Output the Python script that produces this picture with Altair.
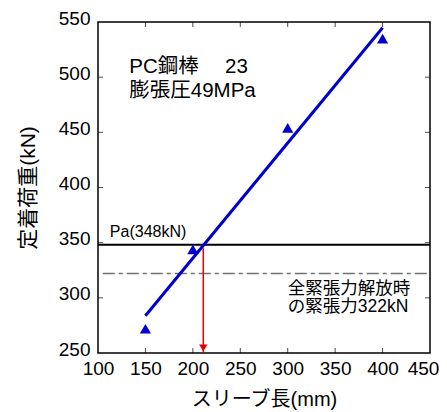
import altair as alt
import pandas as pd

# data
sleeve_mm = [150, 200, 300, 400]
load_kN = [272, 344, 454, 535]
pa_kN = [348]
release_kN = [322]
arrow_x = [211]
arrow_top = [345]
x_ticks = [100, 150, 200, 250, 300, 350, 400, 450]
y_ticks = [250, 300, 350, 400, 450, 500, 550]
x_inner = [150, 200, 250, 300, 350, 400]
y_inner = [300, 350, 400, 450, 500]

FONT = "Liberation Sans, Arial, Noto Sans CJK JP"
BLUE = "#0000cd"

pts = pd.DataFrame({"x": sleeve_mm, "y": load_kN})
pa_df = pd.DataFrame({"y": pa_kN})
rel_df = pd.DataFrame({"y": release_kN})
arr_df = pd.DataFrame({"x": arrow_x, "y": arrow_top, "y2": [250]})
xin = pd.DataFrame({"x": x_inner})
yin = pd.DataFrame({"y": y_inner})

xs = alt.Scale(domain=[100, 450], nice=False, zero=False)
ys = alt.Scale(domain=[250, 550], nice=False, zero=False)

W, H = 332, 331

main_x = alt.Axis(values=x_ticks, ticks=False, tickSize=0, labelOverlap=False, labelFlush=False,
                  domain=False, grid=False, labelPadding=6, labelFontSize=19,
                  labelOffset=alt.ExprRef("datum.value == 450 ? -7 : 0"),
                  title="スリーブ長(mm)", titleFontSize=20, titlePadding=11,
                  titleFontWeight="normal", labelFont=FONT, titleFont=FONT, labelColor="black", titleColor="black")
main_y = alt.Axis(values=y_ticks, ticks=False, tickSize=0, labelOverlap=False, labelFlush=False,
                  domain=False, grid=False, labelPadding=8, labelFontSize=19, labelOffset=-4,
                  title="定着荷重(kN)", titleFontSize=21, titlePadding=20,
                  titleFontWeight="normal", labelFont=FONT, titleFont=FONT, labelColor="black", titleColor="black")

points = alt.Chart(pts).mark_point(shape="triangle-up", filled=True, color=BLUE, size=125, opacity=1).encode(
    x=alt.X("x:Q", scale=xs, axis=main_x),
    y=alt.Y("y:Q", scale=ys, axis=main_y),
)

fit = alt.Chart(pts).transform_regression("x", "y", extent=[150, 400]).mark_line(
    color=BLUE, strokeWidth=3).encode(
    x=alt.X("x:Q", scale=xs), y=alt.Y("y:Q", scale=ys),
)

pa_line = alt.Chart(pa_df).mark_rule(color="black", strokeWidth=2).encode(
    x=alt.datum(100), x2=alt.datum(450), y=alt.Y("y:Q", scale=ys),
)

rel_line = alt.Chart(rel_df).mark_rule(color="#707070", strokeWidth=1.5, strokeDash=[12, 4, 4, 4]).encode(
    x=alt.datum(105), x2=alt.datum(450), y=alt.Y("y:Q", scale=ys),
)

arrow = alt.Chart(arr_df).mark_rule(color="#e60000", strokeWidth=1.5).encode(
    x=alt.X("x:Q", scale=xs), y=alt.Y("y:Q", scale=ys), y2="y2:Q",
)
head = alt.Chart(arr_df).mark_point(shape="triangle-down", filled=True, color="#e60000", size=70,
                                    opacity=1, yOffset=-5).encode(
    x=alt.X("x:Q", scale=xs), y=alt.datum(250),
)

# inward tick marks on all four sides
tb = alt.Chart(xin).mark_tick(orient="vertical", size=5, thickness=1, color="black", yOffset=-2.5).encode(
    x=alt.X("x:Q", scale=xs), y=alt.datum(250))
tt = alt.Chart(xin).mark_tick(orient="vertical", size=5, thickness=1, color="black", yOffset=2.5).encode(
    x=alt.X("x:Q", scale=xs), y=alt.datum(550))
tl = alt.Chart(yin).mark_tick(orient="horizontal", size=5, thickness=1, color="black", xOffset=2.5).encode(
    y=alt.Y("y:Q", scale=ys), x=alt.datum(100))
tr = alt.Chart(yin).mark_tick(orient="horizontal", size=5, thickness=1, color="black", xOffset=-2.5).encode(
    y=alt.Y("y:Q", scale=ys), x=alt.datum(450))

def label(txt, x, y, size=17):
    return alt.Chart(pd.DataFrame({"t": [txt]})).mark_text(
        align="left", baseline="alphabetic", fontSize=size, font=FONT, color="black").encode(
        x=alt.datum(x), y=alt.datum(y), text="t:N")

texts = [
    label("PC鋼棒　 23", 133, 504, 20.5),
    label("膨張圧49MPa", 133, 482, 20.5),
    label("Pa(348kN)", 112.5, 355, 16),
    label("全緊張力解放時", 300, 303.5, 17.5),
    label("の緊張力322kN", 300, 287, 17.5),
]

chart = alt.layer(tb, tt, tl, tr, rel_line, pa_line, fit, points, arrow, head, *texts).properties(
    width=W, height=H, padding={"left": 90, "top": 14, "right": 9, "bottom": 58},
    autosize=alt.AutoSizeParams(type="none"),
).configure_view(stroke="black", strokeWidth=1.5)

chart.save("out.html", embed_options={"renderer": "svg", "actions": False})
